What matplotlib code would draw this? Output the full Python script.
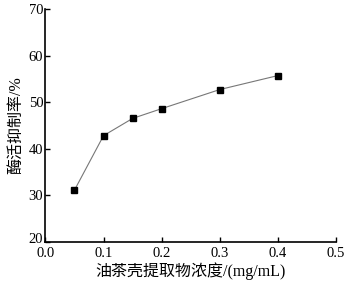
import matplotlib
matplotlib.use('Agg')
import matplotlib.pyplot as plt
import matplotlib.transforms as mtransforms

plt.rcParams['font.family'] = ['Liberation Serif', 'Noto Sans CJK SC']

# data
conc = [0.05, 0.1, 0.15, 0.2, 0.3, 0.4]
inhibition = [31.1, 42.8, 46.5, 48.6, 52.7, 55.7]
xticks = [0.0, 0.1, 0.2, 0.3, 0.4, 0.5]
yticks = [20, 30, 40, 50, 60, 70]

fig = plt.figure(figsize=(3.49, 2.88), dpi=100)
ax = fig.add_axes([0.130, 0.160, 0.833, 0.809])

ax.plot(conc, inhibition, color='#777777', lw=0.8,
        marker='s', markersize=4, markerfacecolor='black', markeredgecolor='black')

ax.set_xlim(0, 0.5)
ax.set_ylim(20, 70)
ax.set_xticks(xticks)
ax.set_xticklabels(['%.1f' % v for v in xticks])
ax.set_yticks(yticks)

for s in ['top', 'right']:
    ax.spines[s].set_visible(False)
for s in ['left', 'bottom']:
    ax.spines[s].set_linewidth(1.2)

ax.tick_params(direction='in', length=3.5, width=1.0, labelsize=10.5)
ax.tick_params(axis='x', pad=3.5)
ax.tick_params(axis='y', pad=1.5)

# nudge the bottom y label up a bit so it doesn't collide with 0.0
lbl = ax.get_yticklabels()[0]
lbl.set_transform(lbl.get_transform() + mtransforms.ScaledTranslation(0, 3 / 72, fig.dpi_scale_trans))

ax.set_xlabel('油茶壳提取物浓度/(mg/mL)', fontsize=11.5, labelpad=2)
ax.set_ylabel('酶活抑制率/%', fontsize=11.5, labelpad=3)

fig.savefig('out.png', dpi=100)
